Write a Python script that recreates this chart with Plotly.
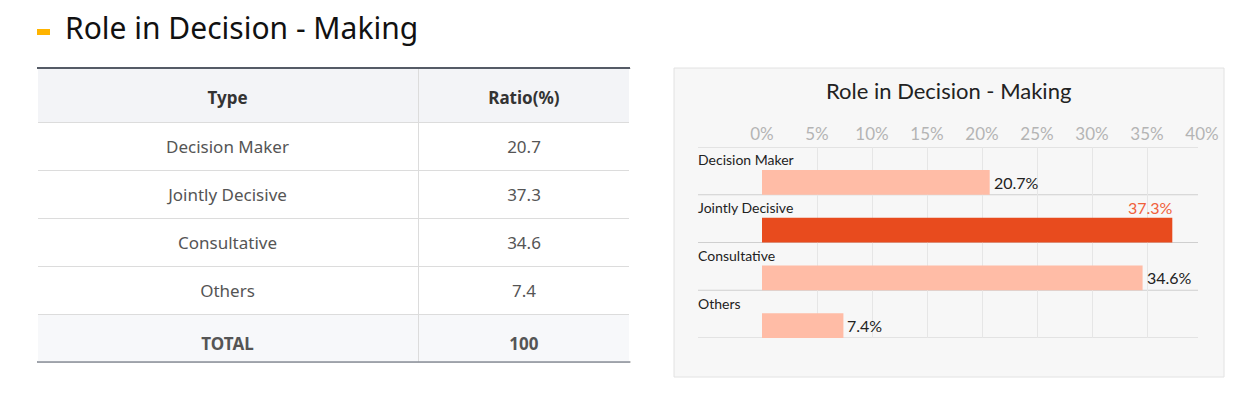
import plotly.graph_objects as go

W, H = 1240, 394
def px(x): return x / W
def py(y): return 1 - y / H

# ---- data ----
categories = ["Decision Maker", "Jointly Decisive", "Consultative", "Others"]
ratios = [20.7, 37.3, 34.6, 7.4]
highlight_idx = 1
x_ticks = [0, 5, 10, 15, 20, 25, 30, 35, 40]
x_tick_labels = [f"{t}%" for t in x_ticks]
table_header = ["Type", "Ratio(%)"]
total_label = "TOTAL"
total_value = round(sum(ratios))

LIGHT = "#FFBCA6"
STRONG = "#E84B1E"
STRONG_TXT = "#F0603A"

fig = go.Figure()

# ---- table: background/lines layer + text layer (shifted to centre text vertically) ----
row_fill = ["white"] * len(categories) + ["#f7f8fa"]
col1 = categories + [f"<b>{total_label}</b>"]
col2 = [f"{v}" for v in ratios] + [f"<b>{total_value}</b>"]
hdr = [f"<b>{h}</b>" for h in table_header]
TOP, BOT = 68, 366
DY = 10
HDR_H, ROW_H = 54, 48
nrows = len(col1)
TBL_BOTTOM = TOP + HDR_H + nrows * ROW_H
fig.add_trace(go.Table(
    domain=dict(x=[px(37), px(630)], y=[py(BOT), py(TOP)]),
    columnwidth=[381, 212],
    header=dict(values=["", ""], fill_color="#f3f4f7", line_color="#dcdcdc", height=HDR_H),
    cells=dict(values=[[""] * nrows, [""] * nrows], fill_color=[row_fill, row_fill],
               line_color="#dcdcdc", height=ROW_H),
))
fig.add_trace(go.Table(
    domain=dict(x=[px(37), px(630)], y=[py(BOT + DY), py(TOP + DY)]),
    columnwidth=[381, 212],
    header=dict(values=hdr, fill_color="rgba(0,0,0,0)", line_color="rgba(0,0,0,0)",
                align="center", height=HDR_H,
                font=dict(family="Noto Sans", size=17, color="#333")),
    cells=dict(values=[col1, col2], fill_color="rgba(0,0,0,0)", line_color="rgba(0,0,0,0)",
               align="center", height=ROW_H,
               font=dict(family="Noto Sans", size=17, color="#555")),
))

# ---- bar chart ----
n = len(categories)
bar_thick = 0.52
y_pos = [i + 1 - bar_thick / 2 for i in range(n)]
colors = [STRONG if i == highlight_idx else LIGHT for i in range(n)]
fig.add_trace(go.Bar(x=ratios, y=y_pos, orientation="h", width=bar_thick,
                     marker=dict(color=colors, line=dict(width=0)),
                     hoverinfo="skip", showlegend=False))

fig.update_layout(
    width=W, height=H, margin=dict(l=0, r=0, t=0, b=0, autoexpand=False),
    paper_bgcolor="white", plot_bgcolor="rgba(0,0,0,0)",
    xaxis=dict(domain=[px(762), px(1202)], range=[0, 40], side="top",
               tickvals=x_ticks, ticktext=x_tick_labels, showgrid=False,
               zeroline=False, showline=False, ticks="", ticklabelstandoff=3,
               tickfont=dict(family="Lato", size=17, color="#b4b4b4"),
               minor=dict(tickvals=x_ticks[1:-1], showgrid=True, gridcolor="#e6e6e6", gridwidth=1)),
    yaxis=dict(domain=[py(338), py(147)], range=[n, 0], showgrid=False,
               zeroline=False, showticklabels=False, ticks=""),
)

shapes = []
shapes.append(dict(type="rect", xref="paper", yref="paper", x0=px(674), x1=px(1224),
                   y0=py(377), y1=py(68), fillcolor="#f7f7f7", line=dict(color="#e2e2e2", width=1),
                   layer="below"))
for i in range(n + 1):
    shapes.append(dict(type="line", xref="paper", yref="y", x0=px(698), x1=px(1198),
                       y0=i, y1=i, line=dict(color="#cfcfcf", width=1), layer="below"))
# hide outer vertical borders of the table
for xe in (37, 630):
    shapes.append(dict(type="line", xref="paper", yref="paper", x0=px(xe), x1=px(xe),
                       y0=py(TBL_BOTTOM - 1), y1=py(TOP + 1), line=dict(color="white", width=2)))
shapes.append(dict(type="line", xref="paper", yref="paper", x0=px(37), x1=px(630),
                   y0=py(TOP), y1=py(TOP), line=dict(color="#555b66", width=2)))
shapes.append(dict(type="line", xref="paper", yref="paper", x0=px(37), x1=px(630),
                   y0=py(TBL_BOTTOM), y1=py(TBL_BOTTOM), line=dict(color="#8a8f98", width=1.5)))
shapes.append(dict(type="rect", xref="paper", yref="paper", x0=px(37), x1=px(50),
                   y0=py(35), y1=py(29), fillcolor="#FFB400", line=dict(width=0)))
fig.update_layout(shapes=shapes)

ann = []
ann.append(dict(text="Role in Decision - Making", xref="paper", yref="paper", x=px(63), y=py(28),
                xanchor="left", yanchor="middle", showarrow=False,
                font=dict(family="Noto Sans", size=30, color="#111")))
ann.append(dict(text="Role in Decision - Making", xref="paper", yref="paper", x=px(948), y=py(90),
                xanchor="center", yanchor="middle", showarrow=False,
                font=dict(family="Lato", size=22, color="#222")))
for i, (c, v) in enumerate(zip(categories, ratios)):
    ann.append(dict(text=c, xref="paper", yref="y", x=px(696), y=i + 0.27,
                    xanchor="left", yanchor="middle", showarrow=False,
                    font=dict(family="Lato", size=14, color="#222")))
    if i == highlight_idx:
        ann.append(dict(text=f"{v}%", xref="x", yref="y", x=v, y=i + 0.26,
                        xanchor="right", yanchor="middle", showarrow=False, xshift=3,
                        font=dict(family="Lato", size=16, color=STRONG_TXT)))
    else:
        ann.append(dict(text=f"{v}%", xref="x", yref="y", x=v, y=y_pos[i],
                        xanchor="left", yanchor="middle", showarrow=False, xshift=2,
                        font=dict(family="Lato", size=16, color="#222")))
fig.update_layout(annotations=ann)

fig.write_html("out.html", config={"displayModeBar": False},
               post_script="document.body.style.margin='0';document.body.style.overflow='hidden';")
